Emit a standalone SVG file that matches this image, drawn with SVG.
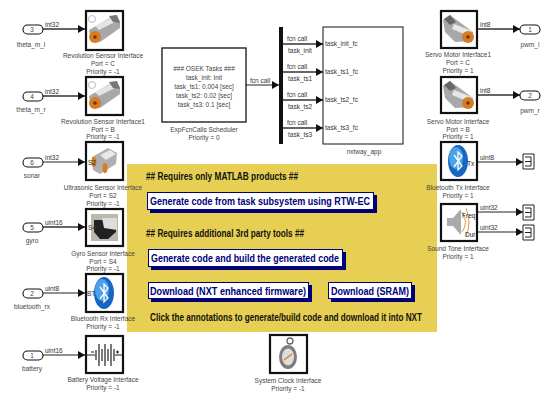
<svg xmlns="http://www.w3.org/2000/svg" width="548" height="395" viewBox="0 0 548 395">
<style>
text{font-family:"Liberation Sans",Arial,sans-serif}
.l{font-size:6.5px;fill:#444;text-anchor:middle}
.s{font-size:6.5px;fill:#333}
.b{fill:#fff;stroke:#111;stroke-width:2.2}
.p{fill:#fff;stroke:#111;stroke-width:1.1}
.c{stroke:#222;stroke-width:1.2;fill:none}
.w{stroke:#333;stroke-width:1.7;fill:none}
.a{font-size:10px;font-weight:bold;fill:#111}
.n{font-size:11.5px;font-weight:bold;fill:#00007a}
.f{fill:#fff;stroke:#00007a;stroke-width:1}
.h{fill:#00007a}
</style>
<defs>
<marker id="ar" markerUnits="userSpaceOnUse" markerWidth="8" markerHeight="9" refX="7" refY="4.500" orient="auto"><path d="M0 0.500L7 4.500L0 8.500Z" fill="#111"/></marker>
<g id="sensor"><path d="M-16-1L10-16L15-10L15-3L-5 11L-14 9Z" fill="#a8a8a8"/><path d="M-10-5L8-14L12-10L-6-1Z" fill="#e4e4e4"/><path d="M4-15L12-16L15-8L8-9Z" fill="#777"/><circle cx="-10" cy="6" r="6" fill="#d97b20"/><circle cx="-10" cy="6" r="1.800" fill="#5a3a10"/><circle cx="-13" cy="-12" r="3.500" fill="none" stroke="#bbb"/></g>
<g id="motor"><path d="M-16-9L-9-14L14 3L13 12L-4 13L-14 3Z" fill="#a8a8a8"/><path d="M-5-5L13 2L10 7L-7 0Z" fill="#e6e6e6"/><path d="M-15-10L-9-14L-3-7L-9-4Z" fill="#666"/><circle cx="9" cy="8" r="6" fill="#d97b20"/><circle cx="9" cy="8" r="1.800" fill="#5a3a10"/></g>
<g id="bt"><ellipse cx="0" cy="0" rx="10" ry="16" fill="#1766c4"/><ellipse cx="-2" cy="-3" rx="7" ry="11" fill="#4aa3e8"/><path d="M-4-6L4 5L0 9V-9L4-5L-4 6" fill="none" stroke="#fff" stroke-width="1.300"/></g>
<path id="term" d="M0 0H11V15H0ZM2 3H8V12H2M2 7.500H8" fill="#fff" stroke="#222" stroke-width="1"/>
</defs>
<rect width="548" height="395" fill="#fff"/>
<rect id="annotation-bg" x="127" y="164" width="310" height="168" fill="#e6cf52"/>
<g id="connectors">
<path class="w" marker-end="url(#ar)" d="M43 29H85"/>
<path class="w" marker-end="url(#ar)" d="M43 96H85"/>
<path class="c" marker-end="url(#ar)" d="M43 162H85"/>
<path class="w" marker-end="url(#ar)" d="M43 227H85"/>
<path class="c" marker-end="url(#ar)" d="M43 293H85"/>
<path class="c" marker-end="url(#ar)" d="M43 355H85"/>
<path class="c" marker-end="url(#ar)" d="M246 85H279"/>
<path class="w" marker-end="url(#ar)" d="M283 44H323"/>
<path class="w" marker-end="url(#ar)" d="M283 72H323"/>
<path class="w" marker-end="url(#ar)" d="M283 100H323"/>
<path class="w" marker-end="url(#ar)" d="M283 128H323"/>
<path class="w" marker-end="url(#ar)" d="M477 29H520"/>
<path class="w" marker-end="url(#ar)" d="M477 95H520"/>
<path class="c" marker-end="url(#ar)" d="M477 162H523"/>
<path class="c" marker-end="url(#ar)" d="M477 212H523"/>
<path class="c" marker-end="url(#ar)" d="M477 232H523"/>
<text class="s" x="45" y="27">int32</text><text class="s" x="45" y="94">int32</text><text class="s" x="45" y="160">int32</text><text class="s" x="45" y="225">uint16</text><text class="s" x="45" y="291">uint8</text><text class="s" x="45" y="353">uint16</text>
<text class="s" x="250" y="83">fcn call</text>
<text class="s" x="287" y="41">fcn call</text><text class="s" x="287" y="69">fcn call</text><text class="s" x="287" y="97">fcn call</text><text class="s" x="287" y="125">fcn call</text>
<text class="s" x="288" y="53">task_init</text><text class="s" x="288" y="81">task_ts1</text><text class="s" x="288" y="109">task_ts2</text><text class="s" x="288" y="137">task_ts3</text>
<text class="s" x="480" y="27">int8</text><text class="s" x="480" y="93">int8</text><text class="s" x="480" y="160">uint8</text><text class="s" x="480" y="210">uint32</text><text class="s" x="480" y="230">uint32</text>
</g>
<g id="in3"><rect class="p" x="23" y="25" width="20" height="9" rx="4.500"/><text class="l" x="32" y="32">3</text><text class="l" x="31" y="47">theta_m_l</text></g>
<g id="in4"><rect class="p" x="23" y="92" width="20" height="9" rx="4.500"/><text class="l" x="32" y="99">4</text><text class="l" x="31" y="112">theta_m_r</text></g>
<g id="in6"><rect class="p" x="23" y="158" width="20" height="9" rx="4.500"/><text class="l" x="32" y="165">6</text><text class="l" x="32" y="178">sonar</text></g>
<g id="in5"><rect class="p" x="23" y="223" width="20" height="9" rx="4.500"/><text class="l" x="32" y="230">5</text><text class="l" x="32" y="243">gyro</text></g>
<g id="in2"><rect class="p" x="23" y="289" width="20" height="9" rx="4.500"/><text class="l" x="32" y="296">2</text><text class="l" x="32" y="309">bluetooth_rx</text></g>
<g id="in1"><rect class="p" x="23" y="351" width="20" height="9" rx="4.500"/><text class="l" x="32" y="358">1</text><text class="l" x="32" y="371">battery</text></g>
<g id="rev1"><rect class="b" x="86" y="11" width="37" height="39"/><use href="#sensor" x="105" y="31"/><text class="l" x="103" y="58">Revolution Sensor Interface</text><text class="l" x="103" y="66">Port = C</text><text class="l" x="103" y="74">Priority = -1</text></g>
<g id="rev2"><rect class="b" x="86" y="77" width="37" height="38"/><use href="#sensor" x="105" y="97"/><text class="l" x="103" y="124">Revolution Sensor Interface1</text><text class="l" x="103" y="132">Port = B</text><text class="l" x="103" y="139">Priority = -1</text></g>
<g id="sonar-block"><rect class="b" x="86" y="142" width="37" height="38"/><path d="M92 157L108 148L117 153L116 164L100 174L93 170Z" fill="#b0b0b0"/><path d="M100 155L110 150L116 154L106 160Z" fill="#e8e8e8"/><ellipse cx="94" cy="162" rx="2.500" ry="5" fill="#d97b20"/><ellipse cx="105" cy="168" rx="2.500" ry="5" fill="#d97b20"/><text class="s" x="88" y="165">S2</text><text class="l" x="103" y="190">Ultrasonic Sensor Interface</text><text class="l" x="103" y="198">Port = S2</text><text class="l" x="103" y="206">Priority = -1</text></g>
<g id="gyro-block"><rect class="b" x="86" y="209" width="37" height="37"/><rect x="91" y="214" width="27" height="27" fill="#bdb8ae"/><path d="M94 220H116V232L108 239H100L94 232Z" fill="#222"/><path d="M102 218H117V230L104 228Z" fill="#ddd"/><text class="s" x="88" y="230">S4</text><text class="l" x="103" y="256">Gyro Sensor Interface</text><text class="l" x="103" y="264">Port = S4</text><text class="l" x="103" y="271">Priority = -1</text></g>
<g id="btrx-block"><rect class="b" x="86" y="274" width="37" height="38"/><use href="#bt" x="104" y="293"/><text class="s" x="87" y="296">BT</text><text class="l" x="103" y="321">Bluetooth Rx Interface</text><text class="l" x="103" y="329">Priority = -1</text></g>
<g id="battery-block"><rect class="b" x="86" y="336" width="37" height="37"/><path d="M86 355H95M115 355H123M91 352H94M116 352H119M117.500 350.500V353.500M96 350V360M99 344V366M102 349V361M105 344V366M108 349V361M111 344V366M114 349V361" stroke="#222" fill="none" stroke-width="1.200"/><text class="l" x="103" y="382">Battery Voltage Interface</text><text class="l" x="103" y="390">Priority = -1</text></g>
<g id="scheduler"><rect class="p" x="162" y="48" width="84" height="74" style="stroke-width:1.300"/><text class="l" x="204" y="71">###  OSEK Tasks  ###</text><text class="l" x="204" y="80">task_init: Init</text><text class="l" x="204" y="89">task_ts1: 0.004 [sec]</text><text class="l" x="204" y="98">task_ts2: 0.02 [sec]</text><text class="l" x="204" y="107">task_ts3: 0.1 [sec]</text><text class="l" x="204" y="132">ExpFcnCalls Scheduler</text><text class="l" x="204" y="140">Priority = 0</text></g>
<rect id="demux" x="279" y="27" width="4" height="117" fill="#111"/>
<g id="subsystem"><rect class="p" x="323" y="27" width="80" height="117" style="stroke-width:1"/><text class="s" x="325" y="46">task_init_fc</text><text class="s" x="325" y="74">task_ts1_fc</text><text class="s" x="325" y="102">task_ts2_fc</text><text class="s" x="325" y="130">task_ts3_fc</text><text class="l" x="364" y="154">nxtway_app</text></g>
<g id="servo1"><rect class="b" x="441" y="11" width="36" height="37"/><use href="#motor" x="459" y="29"/><text class="l" x="458" y="57">Servo Motor Interface1</text><text class="l" x="458" y="65">Port = C</text><text class="l" x="458" y="73">Priority = 1</text></g>
<g id="servo2"><rect class="b" x="441" y="77" width="36" height="36"/><use href="#motor" x="459" y="95"/><text class="l" x="458" y="124">Servo Motor Interface</text><text class="l" x="458" y="132">Port = B</text><text class="l" x="458" y="139">Priority = 1</text></g>
<g id="bttx-block"><rect class="b" x="441" y="142" width="36" height="38"/><use href="#bt" x="458" y="161"/><text class="s" x="467" y="166" style="fill:#222">Tx</text><text class="l" x="458" y="190">Bluetooth Tx Interface</text><text class="l" x="458" y="198">Priority = 1</text></g>
<g id="sound-block"><rect class="b" x="441" y="204" width="36" height="37"/><path d="M447 218H453L461 209V235L453 226H447Z" fill="#aaa"/><path d="M462 212Q469 222 462 232M466 208Q472 222 466 236" stroke="#d97b20" fill="none" stroke-width=".8"/><text class="s" x="462" y="218" style="fill:#222">Freq</text><text class="s" x="465" y="237" style="fill:#222">Dur</text><text class="l" x="458" y="251">Sound Tone Interface</text><text class="l" x="458" y="259">Priority = 1</text></g>
<g id="out1"><rect class="p" x="520" y="25" width="20" height="9" rx="4.500"/><text class="l" x="530" y="32">1</text><text class="l" x="530" y="47">pwm_l</text></g>
<g id="out2"><rect class="p" x="520" y="91" width="20" height="9" rx="4.500"/><text class="l" x="530" y="98">2</text><text class="l" x="530" y="113">pwm_r</text></g>
<g id="term1"><use href="#term" x="523" y="154"/></g>
<g id="term2"><use href="#term" x="523" y="205"/></g>
<g id="term3"><use href="#term" x="523" y="225"/></g>
<g id="clock-block"><rect class="b" x="270" y="335" width="37" height="38"/><ellipse cx="288" cy="357" rx="9" ry="12" fill="#7d7d7d"/><ellipse cx="288" cy="357" rx="6" ry="8.500" fill="#ddd"/><circle cx="290" cy="341" r="3" fill="none" stroke="#666" stroke-width="1.300"/><path d="M284 360L292 354" stroke="#d97b20" stroke-width="1.300"/><text class="l" x="288" y="383">System Clock Interface</text><text class="l" x="288" y="391">Priority = -1</text></g>
<g id="annotations">
<text class="a" x="146" y="180" textLength="152" lengthAdjust="spacingAndGlyphs">## Requires only MATLAB products ##</text>
<rect class="h" x="150" y="195" width="227" height="18"/><rect class="f" x="147.500" y="192.500" width="226" height="17"/>
<text class="n" x="150" y="205" textLength="220" lengthAdjust="spacingAndGlyphs">Generate code from task subsystem using RTW-EC</text>
<text class="a" x="146" y="237" textLength="158" lengthAdjust="spacingAndGlyphs">## Requires additional 3rd party tools ##</text>
<rect class="h" x="151" y="252" width="195" height="18"/><rect class="f" x="148.500" y="249.500" width="194" height="17"/>
<text class="n" x="151" y="262" textLength="188" lengthAdjust="spacingAndGlyphs">Generate code and build the generated code</text>
<rect class="h" x="151" y="285" width="161" height="17"/><rect class="f" x="148.500" y="282.500" width="160" height="16"/>
<text class="n" x="150" y="295" textLength="156" lengthAdjust="spacingAndGlyphs">Download (NXT enhanced firmware)</text>
<rect class="h" x="331" y="285" width="84" height="17"/><rect class="f" x="328.500" y="282.500" width="83" height="16"/>
<text class="n" x="331" y="295" textLength="78" lengthAdjust="spacingAndGlyphs">Download (SRAM)</text>
<text class="a" x="150" y="321" textLength="272" lengthAdjust="spacingAndGlyphs">Click the annotations to generate/build code and download it into NXT</text>
</g>
</svg>
